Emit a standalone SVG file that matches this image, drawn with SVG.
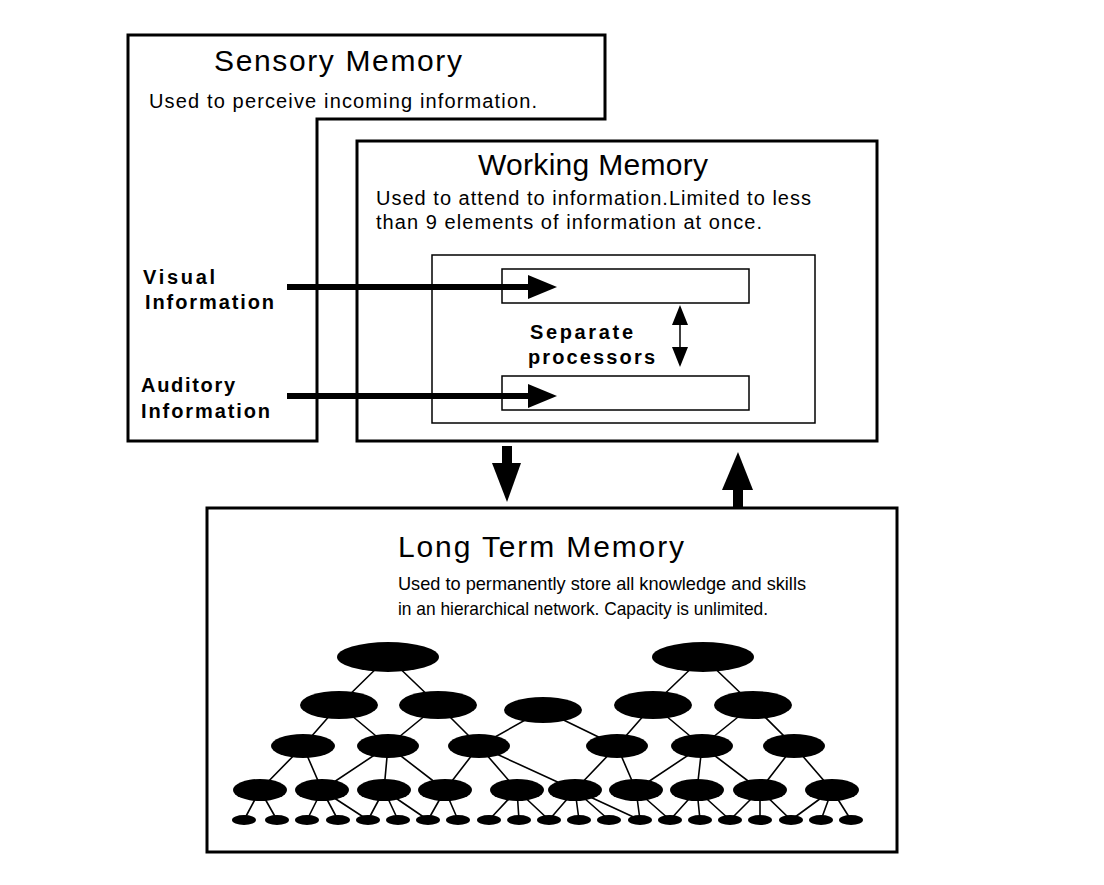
<svg xmlns="http://www.w3.org/2000/svg" width="1104" height="885" viewBox="0 0 1104 885">
<style>
.box{fill:#fff;stroke:#000;stroke-width:3}
.thin{fill:#fff;stroke:#000;stroke-width:1.5}
.title{font-family:"Liberation Sans",Arial,sans-serif;font-size:30px;fill:#000}
.body{font-family:"Liberation Sans",Arial,sans-serif;font-size:20px;fill:#000}
.body2{font-family:"Liberation Sans",Arial,sans-serif;font-size:18.5px;fill:#000}
.lbl{font-family:"Liberation Sans",Arial,sans-serif;font-size:20px;font-weight:bold;fill:#000}
.edge{stroke:#000;stroke-width:1.6;fill:none}
.n{fill:#000}
</style>
<rect width="1104" height="885" fill="#fff"/>
<g id="sensory-memory">
<path class="box" d="M128,35 H605 V119 H317 V441 H128 Z"/>
<text class="title" x="214" y="71" textLength="248" lengthAdjust="spacing">Sensory Memory</text>
<text class="body" x="149" y="108" textLength="388" lengthAdjust="spacing">Used to perceive incoming information.</text>
<text class="lbl" x="143" y="284" textLength="72" lengthAdjust="spacing">Visual</text>
<text class="lbl" x="145" y="309" textLength="129" lengthAdjust="spacing">Information</text>
<text class="lbl" x="141" y="392" textLength="94" lengthAdjust="spacing">Auditory</text>
<text class="lbl" x="141" y="418" textLength="129" lengthAdjust="spacing">Information</text>
</g>
<g id="working-memory">
<rect class="box" x="357" y="141" width="520" height="300"/>
<text class="title" x="478" y="175" textLength="230" lengthAdjust="spacing">Working Memory</text>
<text class="body" x="376" y="205" textLength="435" lengthAdjust="spacing">Used to attend to information.Limited to less</text>
<text class="body" x="376" y="229" textLength="386" lengthAdjust="spacing">than 9 elements of information at once.</text>
<rect class="thin" x="432" y="255" width="383" height="168"/>
</g>
<g id="visual-processor"><rect class="thin" x="502" y="269" width="247" height="34"/></g>
<g id="auditory-processor"><rect class="thin" x="502" y="376" width="247" height="34"/></g>
<g id="separate-label">
<text class="lbl" x="530" y="339" textLength="103" lengthAdjust="spacing">Separate</text>
<text class="lbl" x="528" y="364" textLength="127" lengthAdjust="spacing">processors</text>
</g>
<g id="long-term-memory">
<rect class="box" x="207" y="508" width="690" height="344"/>
<text class="title" x="398" y="557" textLength="286" lengthAdjust="spacing">Long Term Memory</text>
<text class="body2" x="398" y="590" textLength="408" lengthAdjust="spacingAndGlyphs">Used to permanently store all knowledge and skills</text>
<text class="body2" x="398" y="615" textLength="370" lengthAdjust="spacingAndGlyphs">in an hierarchical network. Capacity is unlimited.</text>
</g>
<g id="connectors">
<line x1="287" y1="287" x2="532" y2="287" stroke="#000" stroke-width="6"/>
<polygon points="528,275 557,287 528,299" fill="#000"/>
<line x1="287" y1="396" x2="532" y2="396" stroke="#000" stroke-width="6"/>
<polygon points="528,384 557,396 528,408" fill="#000"/>
<line x1="680" y1="322" x2="680" y2="350" stroke="#000" stroke-width="1.5"/>
<polygon points="680,305 688,325 672,325" fill="#000"/>
<polygon points="680,367 688,347 672,347" fill="#000"/>
<rect x="502" y="446" width="10" height="18" fill="#000"/>
<polygon points="492,463 521,463 507,502" fill="#000"/>
<rect x="733" y="488" width="10" height="20" fill="#000"/>
<polygon points="738,452 753,490 722,490" fill="#000"/>
</g>
<g id="network">
<g id="network-links" class="edge">
<path d="M388,657 L339,705 M388,657 L438,705 M703,657 L653,705 M703,657 L753,705"/>
<path d="M339,705 L303,746 M339,705 L388,746 M438,705 L388,746 M438,705 L479,746 M543,710 L479,746 M543,710 L617,746 M653,705 L617,746 M653,705 L702,746 M753,705 L702,746 M753,705 L794,746"/>
<path d="M303,746 L260,790 M303,746 L322,790 M388,746 L322,790 M388,746 L384,790 M388,746 L445,790 M479,746 L445,790 M479,746 L517,790 M479,746 L575,790 M617,746 L575,790 M617,746 L636,790 M702,746 L636,790 M702,746 L697,790 M702,746 L760,790 M794,746 L760,790 M794,746 L832,790"/>
<path d="M260,790 L244,820 M260,790 L277,820 M322,790 L307,820 M322,790 L338,820 M322,790 L368,820 M384,790 L368,820 M384,790 L398,820 M384,790 L428,820 M445,790 L428,820 M445,790 L458,820 M517,790 L489,820 M517,790 L519,820 M517,790 L549,820 M575,790 L549,820 M575,790 L579,820 M575,790 L609,820 M575,790 L640,820 M636,790 L640,820 M636,790 L670,820 M697,790 L670,820 M697,790 L700,820 M697,790 L730,820 M760,790 L730,820 M760,790 L760,820 M760,790 L791,820 M832,790 L791,820 M832,790 L821,820 M832,790 L851,820"/>
</g>
<g id="network-nodes" class="n">
<ellipse cx="388" cy="657" rx="51" ry="15"/>
<ellipse cx="703" cy="657" rx="51" ry="15"/>
<ellipse cx="339" cy="705" rx="39" ry="14"/>
<ellipse cx="438" cy="705" rx="39" ry="14"/>
<ellipse cx="543" cy="710" rx="39" ry="13"/>
<ellipse cx="653" cy="705" rx="39" ry="14"/>
<ellipse cx="753" cy="705" rx="39" ry="14"/>
<ellipse cx="303" cy="746" rx="32" ry="12"/>
<ellipse cx="388" cy="746" rx="31" ry="12"/>
<ellipse cx="479" cy="746" rx="31" ry="12"/>
<ellipse cx="617" cy="746" rx="31" ry="12"/>
<ellipse cx="702" cy="746" rx="31" ry="12"/>
<ellipse cx="794" cy="746" rx="31" ry="12"/>
<ellipse cx="260" cy="790" rx="27" ry="11"/>
<ellipse cx="322" cy="790" rx="27" ry="11"/>
<ellipse cx="384" cy="790" rx="27" ry="11"/>
<ellipse cx="445" cy="790" rx="27" ry="11"/>
<ellipse cx="517" cy="790" rx="27" ry="11"/>
<ellipse cx="575" cy="790" rx="27" ry="11"/>
<ellipse cx="636" cy="790" rx="27" ry="11"/>
<ellipse cx="697" cy="790" rx="27" ry="11"/>
<ellipse cx="760" cy="790" rx="27" ry="11"/>
<ellipse cx="832" cy="790" rx="27" ry="11"/>
<ellipse cx="244" cy="820" rx="12" ry="5"/>
<ellipse cx="277" cy="820" rx="12" ry="5"/>
<ellipse cx="307" cy="820" rx="12" ry="5"/>
<ellipse cx="338" cy="820" rx="12" ry="5"/>
<ellipse cx="368" cy="820" rx="12" ry="5"/>
<ellipse cx="398" cy="820" rx="12" ry="5"/>
<ellipse cx="428" cy="820" rx="12" ry="5"/>
<ellipse cx="458" cy="820" rx="12" ry="5"/>
<ellipse cx="489" cy="820" rx="12" ry="5"/>
<ellipse cx="519" cy="820" rx="12" ry="5"/>
<ellipse cx="549" cy="820" rx="12" ry="5"/>
<ellipse cx="579" cy="820" rx="12" ry="5"/>
<ellipse cx="609" cy="820" rx="12" ry="5"/>
<ellipse cx="640" cy="820" rx="12" ry="5"/>
<ellipse cx="670" cy="820" rx="12" ry="5"/>
<ellipse cx="700" cy="820" rx="12" ry="5"/>
<ellipse cx="730" cy="820" rx="12" ry="5"/>
<ellipse cx="760" cy="820" rx="12" ry="5"/>
<ellipse cx="791" cy="820" rx="12" ry="5"/>
<ellipse cx="821" cy="820" rx="12" ry="5"/>
<ellipse cx="851" cy="820" rx="12" ry="5"/>
</g>
</g>
</svg>
